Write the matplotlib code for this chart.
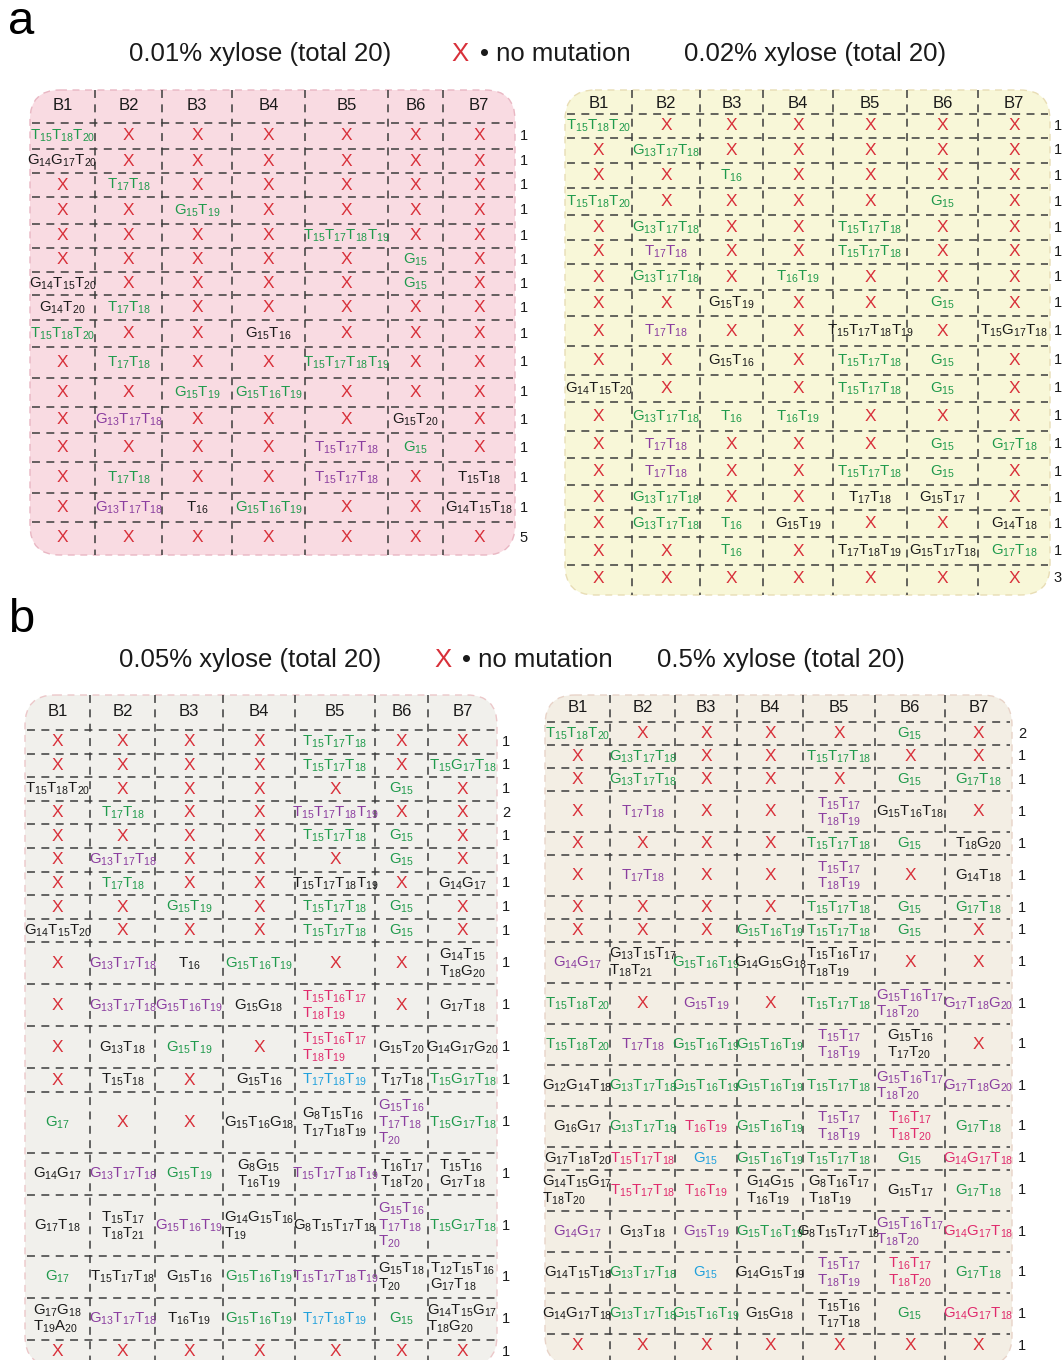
import re
import matplotlib
matplotlib.use("Agg")
import matplotlib.pyplot as plt
from matplotlib.patches import FancyBboxPatch
from matplotlib import font_manager

plt.rcParams['font.family'] = ['Liberation Sans', 'DejaVu Sans']
plt.rcParams['mathtext.fontset'] = 'custom'
plt.rcParams['mathtext.rm'] = 'Liberation Sans'
plt.rcParams['mathtext.it'] = 'Liberation Sans'
plt.rcParams['mathtext.bf'] = 'Liberation Sans:bold'
plt.rcParams['mathtext.default'] = 'rm'

# ---------------------------------------------------------------- data
strains = ["B1", "B2", "B3", "B4", "B5", "B6", "B7"]

# cell code "<colour>:<mutations>", "/" starts a new line, "x" = no mutation
# colours: g green, p purple, k black, m magenta, b blue
xyl001_rows = [
    ["g:T15T18T20", "x", "x", "x", "x", "x", "x"],
    ["k:G14G17T20", "x", "x", "x", "x", "x", "x"],
    ["x", "g:T17T18", "x", "x", "x", "x", "x"],
    ["x", "x", "g:G15T19", "x", "x", "x", "x"],
    ["x", "x", "x", "x", "g:T15T17T18T19", "x", "x"],
    ["x", "x", "x", "x", "x", "g:G15", "x"],
    ["k:G14T15T20", "x", "x", "x", "x", "g:G15", "x"],
    ["k:G14T20", "g:T17T18", "x", "x", "x", "x", "x"],
    ["g:T15T18T20", "x", "x", "k:G15T16", "x", "x", "x"],
    ["x", "g:T17T18", "x", "x", "g:T15T17T18T19", "x", "x"],
    ["x", "x", "g:G15T19", "g:G15T16T19", "x", "x", "x"],
    ["x", "p:G13T17T18", "x", "x", "x", "k:G15T20", "x"],
    ["x", "x", "x", "x", "p:T15T17T18", "g:G15", "x"],
    ["x", "g:T17T18", "x", "x", "p:T15T17T18", "x", "k:T15T18"],
    ["x", "p:G13T17T18", "k:T16", "g:G15T16T19", "x", "x", "k:G14T15T18"],
    ["x", "x", "x", "x", "x", "x", "x"],
]
xyl001_counts = [1, 1, 1, 1, 1, 1, 1, 1, 1, 1, 1, 1, 1, 1, 1, 5]

xyl002_rows = [
    ["g:T15T18T20", "x", "x", "x", "x", "x", "x"],
    ["x", "g:G13T17T18", "x", "x", "x", "x", "x"],
    ["x", "x", "g:T16", "x", "x", "x", "x"],
    ["g:T15T18T20", "x", "x", "x", "x", "g:G15", "x"],
    ["x", "g:G13T17T18", "x", "x", "g:T15T17T18", "x", "x"],
    ["x", "p:T17T18", "x", "x", "g:T15T17T18", "x", "x"],
    ["x", "g:G13T17T18", "x", "g:T16T19", "x", "x", "x"],
    ["x", "x", "k:G15T19", "x", "x", "g:G15", "x"],
    ["x", "p:T17T18", "x", "x", "k:T15T17T18T19", "x", "k:T15G17T18"],
    ["x", "x", "k:G15T16", "x", "g:T15T17T18", "g:G15", "x"],
    ["k:G14T15T20", "x", "", "x", "g:T15T17T18", "g:G15", "x"],
    ["x", "g:G13T17T18", "g:T16", "g:T16T19", "x", "x", "x"],
    ["x", "p:T17T18", "x", "x", "x", "g:G15", "g:G17T18"],
    ["x", "p:T17T18", "x", "x", "g:T15T17T18", "g:G15", "x"],
    ["x", "g:G13T17T18", "x", "x", "k:T17T18", "k:G15T17", "x"],
    ["x", "g:G13T17T18", "g:T16", "k:G15T19", "x", "x", "k:G14T18"],
    ["x", "x", "g:T16", "x", "k:T17T18T19", "k:G15T17T18", "g:G17T18"],
    ["x", "x", "x", "x", "x", "x", "x"],
]
xyl002_counts = [1, 1, 1, 1, 1, 1, 1, 1, 1, 1, 1, 1, 1, 1, 1, 1, 1, 3]

xyl005_rows = [
    ["x", "x", "x", "x", "g:T15T17T18", "x", "x"],
    ["x", "x", "x", "x", "g:T15T17T18", "x", "g:T15G17T18"],
    ["k:T15T18T20", "x", "x", "x", "x", "g:G15", "x"],
    ["x", "g:T17T18", "x", "x", "p:T15T17T18T19", "x", "x"],
    ["x", "x", "x", "x", "g:T15T17T18", "g:G15", "x"],
    ["x", "p:G13T17T18", "x", "x", "x", "g:G15", "x"],
    ["x", "g:T17T18", "x", "x", "k:T15T17T18T19", "x", "k:G14G17"],
    ["x", "x", "g:G15T19", "x", "g:T15T17T18", "g:G15", "x"],
    ["k:G14T15T20", "x", "x", "x", "g:T15T17T18", "g:G15", "x"],
    ["x", "p:G13T17T18", "k:T16", "g:G15T16T19", "x", "x", "k:G14T15/T18G20"],
    ["x", "p:G13T17T18", "p:G15T16T19", "k:G15G18", "m:T15T16T17/T18T19", "x", "k:G17T18"],
    ["x", "k:G13T18", "g:G15T19", "x", "m:T15T16T17/T18T19", "k:G15T20", "k:G14G17G20"],
    ["x", "k:T15T18", "x", "k:G15T16", "b:T17T18T19", "k:T17T18", "g:T15G17T18"],
    ["g:G17", "x", "x", "k:G15T16G18", "k:G8T15T16/T17T18T19", "p:G15T16/T17T18/T20", "g:T15G17T18"],
    ["k:G14G17", "p:G13T17T18", "g:G15T19", "k:G8G15/T16T19", "p:T15T17T18T19", "k:T16T17/T18T20", "k:T15T16/G17T18"],
    ["k:G17T18", "k:T15T17/T18T21", "p:G15T16T19", "k:G14G15T16/T19", "k:G8T15T17T18", "p:G15T16/T17T18/T20", "g:T15G17T18"],
    ["g:G17", "k:T15T17T18", "k:G15T16", "g:G15T16T19", "p:T15T17T18T19", "k:G15T18/T20", "k:T12T15T16/G17T18"],
    ["k:G17G18/T19A20", "p:G13T17T18", "k:T16T19", "g:G15T16T19", "b:T17T18T19", "g:G15", "k:G14T15G17/T18G20"],
    ["x", "x", "x", "x", "x", "x", "x"],
]
xyl005_counts = [1, 1, 1, 2, 1, 1, 1, 1, 1, 1, 1, 1, 1, 1, 1, 1, 1, 1, 1]

xyl05_rows = [
    ["g:T15T18T20", "x", "x", "x", "x", "g:G15", "x"],
    ["x", "g:G13T17T18", "x", "x", "g:T15T17T18", "x", "x"],
    ["x", "g:G13T17T18", "x", "x", "x", "g:G15", "g:G17T18"],
    ["x", "p:T17T18", "x", "x", "p:T15T17/T18T19", "k:G15T16T18", "x"],
    ["x", "x", "x", "x", "g:T15T17T18", "g:G15", "k:T18G20"],
    ["x", "p:T17T18", "x", "x", "p:T15T17/T18T19", "x", "k:G14T18"],
    ["x", "x", "x", "x", "g:T15T17T18", "g:G15", "g:G17T18"],
    ["x", "x", "x", "g:G15T16T19", "g:T15T17T18", "g:G15", "x"],
    ["p:G14G17", "k:G13T15T17/T18T21", "g:G15T16T19", "k:G14G15G18", "k:T15T16T17/T18T19", "x", "x"],
    ["g:T15T18T20", "x", "p:G15T19", "x", "g:T15T17T18", "p:G15T16T17/T18T20", "p:G17T18G20"],
    ["g:T15T18T20", "p:T17T18", "g:G15T16T19", "g:G15T16T19", "p:T15T17/T18T19", "k:G15T16/T17T20", "x"],
    ["k:G12G14T18", "g:G13T17T18", "g:G15T16T19", "g:G15T16T19", "g:T15T17T18", "p:G15T16T17/T18T20", "p:G17T18G20"],
    ["k:G16G17", "g:G13T17T18", "m:T16T19", "g:G15T16T19", "p:T15T17/T18T19", "m:T16T17/T18T20", "g:G17T18"],
    ["k:G17T18T20", "m:T15T17T18", "b:G15", "g:G15T16T19", "g:T15T17T18", "g:G15", "m:G14G17T18"],
    ["k:G14T15G17/T18T20", "m:T15T17T18", "m:T16T19", "k:G14G15/T16T19", "k:G8T16T17/T18T19", "k:G15T17", "g:G17T18"],
    ["p:G14G17", "k:G13T18", "p:G15T19", "g:G15T16T19", "k:G8T15T17T18", "p:G15T16T17/T18T20", "m:G14G17T18"],
    ["k:G14T15T18", "g:G13T17T18", "b:G15", "k:G14G15T19", "p:T15T17/T18T19", "m:T16T17/T18T20", "g:G17T18"],
    ["k:G14G17T18", "g:G13T17T18", "g:G15T16T19", "k:G15G18", "k:T15T16/T17T18", "g:G15", "m:G14G17T18"],
    ["x", "x", "x", "x", "x", "x", "x"],
]
xyl05_counts = [2, 1, 1, 1, 1, 1, 1, 1, 1, 1, 1, 1, 1, 1, 1, 1, 1, 1, 1]

titles = ["0.01% xylose (total 20)", "0.02% xylose (total 20)",
          "0.05% xylose (total 20)", "0.5% xylose (total 20)"]
legend_text = "\u2022 no mutation"

# ---------------------------------------------------------------- style
palette = {"g": "#1f9a4c", "p": "#8a3d9f", "k": "#1a1a1a",
           "m": "#e02a6c", "b": "#1fa0dc", "x": "#d8303a"}
grid_col = "#3c3c3c"


def available(name):
    try:
        font_manager.findfont(name, fallback_to_default=False)
        return True
    except Exception:
        return False


narrow = ["Liberation Sans Narrow", "Liberation Sans"] if available("Liberation Sans Narrow") \
    else ["Liberation Sans"]
title_size = 22 if narrow[0] == "Liberation Sans Narrow" else 18.5


def to_math(seq):
    """'G14T15' -> mathtext with numeric subscripts."""
    parts = re.findall(r"([A-Z])(\d+)", seq)
    return "$" + "".join(f"{b}_{{{n}}}" for b, n in parts) + "$"


def edges_from_lines(rows, top, heights):
    e = [top]
    for r in rows:
        n = max(c.count("/") + 1 for c in r)
        e.append(e[-1] + heights[n])
    return e


panels = [
    dict(rows=xyl001_rows, counts=xyl001_counts, bg="#f9dbe2", edge="#e9b7c3",
         box=(30, 90, 515, 555), cols=[30, 95, 162, 232, 305, 388, 443, 515],
         head_y=106, count_x=524,
         edges=[123, 149, 173, 197, 224, 248, 272, 295, 320, 347, 378, 407,
                433, 462, 493, 522, 553]),
    dict(rows=xyl002_rows, counts=xyl002_counts, bg="#f8f7d8", edge="#e8ddb5",
         box=(565, 90, 1050, 595), cols=[565, 632, 700, 763, 833, 907, 978, 1050],
         head_y=104, count_x=1058,
         edges=[114, 138, 163, 188, 215, 240, 264, 290, 316, 346, 375, 402, 431,
                458, 485, 510, 537, 565, 592]),
    dict(rows=xyl005_rows, counts=xyl005_counts, bg="#f1f0ec", edge="#ecc7c9",
         box=(25, 695, 497, 1366), cols=[25, 90, 155, 223, 295, 375, 428, 497],
         head_y=711, count_x=506,
         edges=edges_from_lines(xyl005_rows, 730, {1: 23.6, 2: 42, 3: 61})),
    dict(rows=xyl05_rows, counts=xyl05_counts, bg="#f3eee4", edge="#e8d3c8",
         box=(545, 695, 1012, 1366), cols=[545, 610, 675, 737, 803, 875, 945, 1012],
         head_y=708, count_x=1022,
         edges=edges_from_lines(xyl05_rows, 722, {1: 23, 2: 41, 3: 60})),
]

fig = plt.figure(figsize=(10.64, 13.6), dpi=100)
ax = fig.add_axes([0, 0, 1, 1])
ax.set_xlim(0, 1064)
ax.set_ylim(1360, 0)
ax.axis("off")

dash = dict(color=grid_col, lw=1.1, dashes=(5.2, 4.2), zorder=2)

for p in panels:
    x0, y0, x1, y1 = p["box"]
    ax.add_patch(FancyBboxPatch((x0, y0), x1 - x0, y1 - y0,
                                boxstyle="round,pad=0,rounding_size=30",
                                fc=p["bg"], ec=p["edge"], lw=1.0, ls=(0, (5, 4)),
                                zorder=1))
    cols = p["cols"]
    centers = [(a + b) / 2 for a, b in zip(cols[:-1], cols[1:])]
    edges = p["edges"]
    # grid
    for yy in edges[:-1]:
        ax.plot([cols[0] + 2, cols[-1] - 2], [yy, yy], **dash)
    for xx in cols[1:-1]:
        ax.plot([xx, xx], [y0, min(y1, 1360)], **dash)
    # column headers
    for cx, name in zip(centers, strains):
        ax.text(cx, p["head_y"], name, ha="center", va="center",
                fontsize=12, color="#1a1a1a", zorder=3)
    # cells
    for i, (row, cnt) in enumerate(zip(p["rows"], p["counts"])):
        cy = (edges[i] + edges[i + 1]) / 2
        for cx, cell in zip(centers, row):
            if cell == "":
                continue
            if cell == "x":
                ax.text(cx, cy, "X", ha="center", va="center", fontsize=12.5,
                        color=palette["x"], zorder=3)
                continue
            code, seq = cell.split(":")
            label = "\n".join(to_math(s) for s in seq.split("/"))
            ax.text(cx, cy, label, ha="center", va="center", fontsize=10.8,
                    color=palette[code], multialignment="left",
                    linespacing=1.0, zorder=3)
        ax.text(p["count_x"], cy, str(cnt), ha="center", va="center",
                fontsize=10.5, color="#1a1a1a", zorder=3)

# panel letters and titles
ax.text(8, 22, "a", fontsize=34, ha="left", va="center", family=narrow)
ax.text(8, 620, "b", fontsize=34, ha="left", va="center", family=narrow)

for (tx, ty, s) in [(260, 54, titles[0]), (815, 54, titles[1]),
                    (250, 660, titles[2]), (781, 660, titles[3])]:
    ax.text(tx, ty, s, fontsize=title_size, ha="center", va="center",
            family=narrow, color="#1a1a1a")
for (xx, lx, ty) in [(460, 480, 54), (443, 462, 660)]:
    ax.text(xx, ty, "X", fontsize=title_size, ha="center", va="center",
            family=narrow, color=palette["x"])
    ax.text(lx, ty, legend_text, fontsize=title_size, ha="left", va="center",
            family=narrow, color="#1a1a1a")

fig.savefig("out.png", dpi=100, facecolor="white")
